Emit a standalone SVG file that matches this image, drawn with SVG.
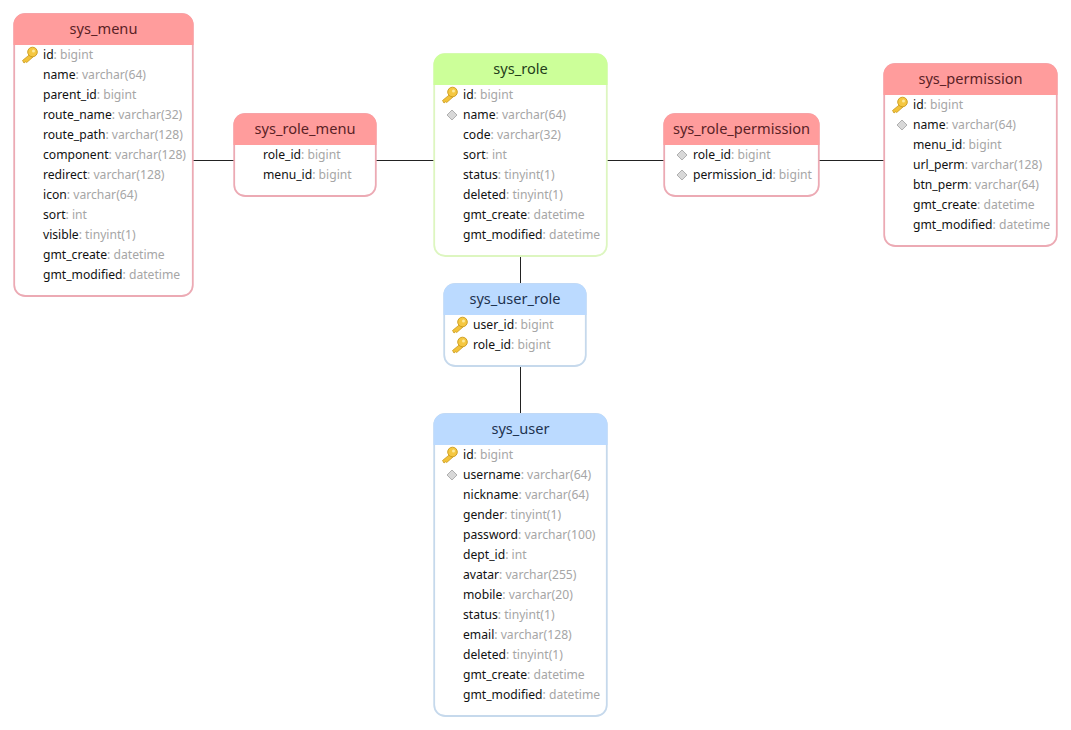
<svg xmlns="http://www.w3.org/2000/svg" width="1071" height="730" viewBox="0 0 1071 730">
<style>
text{font-family:"Noto Sans","Open Sans","Liberation Sans",sans-serif}
.t{font-size:14.6px;text-anchor:middle;dominant-baseline:central;transform:translateY(-.8px)}
.r .t{fill:#5a2226}.g .t{fill:#24401a}.b .t{fill:#1e3350}
.f{font-size:12.15px;fill:#111;transform:translateY(-.5px)}
.f tspan{fill:#a6a6a6}
.box{fill:#fff;stroke-width:1.8}
.r .box{stroke:#ecaab4}.g .box{stroke:#ddf6c0}.b .box{stroke:#c6d9ec}
.r .hd{fill:#ff9c9c}.g .hd{fill:#ccff99}.b .hd{fill:#bbdaff}
.c{stroke:#222;stroke-width:1;fill:none}
</style>
<defs>
<g id="key">
<path d="M2-1.500-6.500 5.500-5 8-3.400 6.800-2.300 7.500 4 2Z" fill="#f2c23a" stroke="#c99a1c" stroke-width=".8"/>
<circle cx="3.500" cy="-3" r="4.800" fill="#f5c842" stroke="#c99a1c" stroke-width=".9"/>
<circle cx="4.500" cy="-4" r="1.500" fill="#fdeb9e"/>
</g>
<path id="dia" d="M0-5 5 0 0 5-5 0Z" fill="#d8d8d8" stroke="#b0b0b0" stroke-width="1"/>
</defs>
<rect width="1071" height="730" fill="#fff"/>
<g id="connectors">
<path class="c" d="M193 160.500H234M376 160.500H434M607 160.500H664M819 160.500H884M520.500 256V283M520.500 366V413"/>
</g>
<g id="sys_menu" class="r">
<rect class="box" x="14.200" y="14" width="178.600" height="282" rx="11"/>
<path class="hd" d="M13.500 45V24.500a11 11 0 0 1 11-11H182.500a11 11 0 0 1 11 11V45Z"/>
<text class="t" x="103.500" y="29">sys_menu</text>
<use href="#key" x="29" y="55"/>
<text class="f" x="43" y="59">id<tspan>: bigint</tspan></text>
<text class="f" x="43" y="79">name<tspan>: varchar(64)</tspan></text>
<text class="f" x="43" y="99">parent_id<tspan>: bigint</tspan></text>
<text class="f" x="43" y="119">route_name<tspan>: varchar(32)</tspan></text>
<text class="f" x="43" y="139">route_path<tspan>: varchar(128)</tspan></text>
<text class="f" x="43" y="159">component<tspan>: varchar(128)</tspan></text>
<text class="f" x="43" y="179">redirect<tspan>: varchar(128)</tspan></text>
<text class="f" x="43" y="199">icon<tspan>: varchar(64)</tspan></text>
<text class="f" x="43" y="219">sort<tspan>: int</tspan></text>
<text class="f" x="43" y="239">visible<tspan>: tinyint(1)</tspan></text>
<text class="f" x="43" y="259">gmt_create<tspan>: datetime</tspan></text>
<text class="f" x="43" y="279">gmt_modified<tspan>: datetime</tspan></text>
</g>
<g id="sys_role_menu" class="r">
<rect class="box" x="234.200" y="114" width="141.600" height="82" rx="11"/>
<path class="hd" d="M233.500 145V124.500a11 11 0 0 1 11-11H365.500a11 11 0 0 1 11 11V145Z"/>
<text class="t" x="305" y="129">sys_role_menu</text>
<text class="f" x="263" y="159">role_id<tspan>: bigint</tspan></text>
<text class="f" x="263" y="179">menu_id<tspan>: bigint</tspan></text>
</g>
<g id="sys_role" class="g">
<rect class="box" x="434.200" y="54" width="172.600" height="202" rx="11"/>
<path class="hd" d="M433.500 85V64.500a11 11 0 0 1 11-11H596.500a11 11 0 0 1 11 11V85Z"/>
<text class="t" x="520.500" y="69">sys_role</text>
<use href="#key" x="449" y="95"/>
<text class="f" x="463" y="99">id<tspan>: bigint</tspan></text>
<use href="#dia" x="452" y="115"/>
<text class="f" x="463" y="119">name<tspan>: varchar(64)</tspan></text>
<text class="f" x="463" y="139">code<tspan>: varchar(32)</tspan></text>
<text class="f" x="463" y="159">sort<tspan>: int</tspan></text>
<text class="f" x="463" y="179">status<tspan>: tinyint(1)</tspan></text>
<text class="f" x="463" y="199">deleted<tspan>: tinyint(1)</tspan></text>
<text class="f" x="463" y="219">gmt_create<tspan>: datetime</tspan></text>
<text class="f" x="463" y="239">gmt_modified<tspan>: datetime</tspan></text>
</g>
<g id="sys_role_permission" class="r">
<rect class="box" x="664.200" y="114" width="154.600" height="82" rx="11"/>
<path class="hd" d="M663.500 145V124.500a11 11 0 0 1 11-11H808.500a11 11 0 0 1 11 11V145Z"/>
<text class="t" x="741.500" y="129">sys_role_permission</text>
<use href="#dia" x="682" y="155"/>
<text class="f" x="693" y="159">role_id<tspan>: bigint</tspan></text>
<use href="#dia" x="682" y="175"/>
<text class="f" x="693" y="179">permission_id<tspan>: bigint</tspan></text>
</g>
<g id="sys_permission" class="r">
<rect class="box" x="884.200" y="64" width="172.600" height="182" rx="11"/>
<path class="hd" d="M883.500 95V74.500a11 11 0 0 1 11-11H1046.500a11 11 0 0 1 11 11V95Z"/>
<text class="t" x="970.500" y="79">sys_permission</text>
<use href="#key" x="899" y="105"/>
<text class="f" x="913" y="109">id<tspan>: bigint</tspan></text>
<use href="#dia" x="902" y="125"/>
<text class="f" x="913" y="129">name<tspan>: varchar(64)</tspan></text>
<text class="f" x="913" y="149">menu_id<tspan>: bigint</tspan></text>
<text class="f" x="913" y="169">url_perm<tspan>: varchar(128)</tspan></text>
<text class="f" x="913" y="189">btn_perm<tspan>: varchar(64)</tspan></text>
<text class="f" x="913" y="209">gmt_create<tspan>: datetime</tspan></text>
<text class="f" x="913" y="229">gmt_modified<tspan>: datetime</tspan></text>
</g>
<g id="sys_user_role" class="b">
<rect class="box" x="444.200" y="284" width="141.600" height="82" rx="11"/>
<path class="hd" d="M443.500 315V294.500a11 11 0 0 1 11-11H575.500a11 11 0 0 1 11 11V315Z"/>
<text class="t" x="515" y="299">sys_user_role</text>
<use href="#key" x="459" y="325"/>
<text class="f" x="473" y="329">user_id<tspan>: bigint</tspan></text>
<use href="#key" x="459" y="345"/>
<text class="f" x="473" y="349">role_id<tspan>: bigint</tspan></text>
</g>
<g id="sys_user" class="b">
<rect class="box" x="434.200" y="414" width="172.600" height="302" rx="11"/>
<path class="hd" d="M433.500 445V424.500a11 11 0 0 1 11-11H596.500a11 11 0 0 1 11 11V445Z"/>
<text class="t" x="520.500" y="429">sys_user</text>
<use href="#key" x="449" y="455"/>
<text class="f" x="463" y="459">id<tspan>: bigint</tspan></text>
<use href="#dia" x="452" y="475"/>
<text class="f" x="463" y="479">username<tspan>: varchar(64)</tspan></text>
<text class="f" x="463" y="499">nickname<tspan>: varchar(64)</tspan></text>
<text class="f" x="463" y="519">gender<tspan>: tinyint(1)</tspan></text>
<text class="f" x="463" y="539">password<tspan>: varchar(100)</tspan></text>
<text class="f" x="463" y="559">dept_id<tspan>: int</tspan></text>
<text class="f" x="463" y="579">avatar<tspan>: varchar(255)</tspan></text>
<text class="f" x="463" y="599">mobile<tspan>: varchar(20)</tspan></text>
<text class="f" x="463" y="619">status<tspan>: tinyint(1)</tspan></text>
<text class="f" x="463" y="639">email<tspan>: varchar(128)</tspan></text>
<text class="f" x="463" y="659">deleted<tspan>: tinyint(1)</tspan></text>
<text class="f" x="463" y="679">gmt_create<tspan>: datetime</tspan></text>
<text class="f" x="463" y="699">gmt_modified<tspan>: datetime</tspan></text>
</g>
</svg>
